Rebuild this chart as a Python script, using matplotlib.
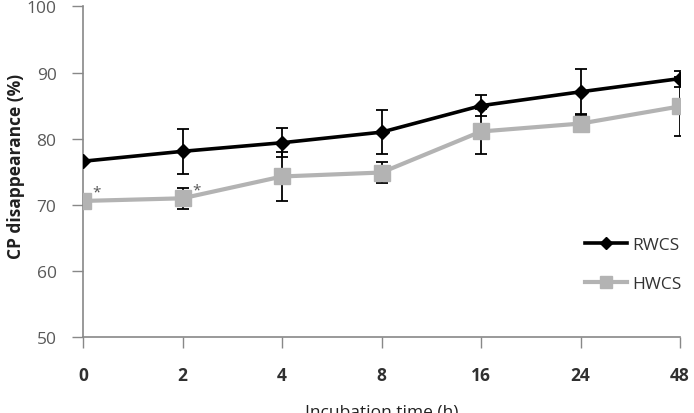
import matplotlib
matplotlib.use("Agg")
import matplotlib.pyplot as plt
from matplotlib.lines import Line2D
import numpy as np

plt.rcParams['font.family'] = ['Open Sans', 'DejaVu Sans']

times = ["0", "2", "4", "8", "16", "24", "48"]
rwcs = [76.6, 78.1, 79.4, 81.0, 85.0, 87.1, 89.1]
rwcs_err = [0.0, 3.4, 2.2, 3.3, 1.6, 3.4, 1.2]
hwcs = [70.6, 71.0, 74.3, 74.9, 81.1, 82.3, 84.9]
hwcs_err = [0.0, 1.6, 3.7, 1.6, 3.4, 1.3, 4.5]
star_idx = [0, 1]

FS = 12.5
fig = plt.figure(figsize=(6.94, 4.14), dpi=100)
ax = fig.add_axes([0.1196, 0.183, 0.8604, 0.799])
x = np.arange(len(times))

ax.errorbar(x, hwcs, yerr=hwcs_err, fmt='none', ecolor='black', elinewidth=1.3, capsize=4, capthick=1.3, zorder=2)
ax.errorbar(x, rwcs, yerr=rwcs_err, fmt='none', ecolor='black', elinewidth=1.3, capsize=4, capthick=1.3, zorder=2)
ax.plot(x, hwcs, color='#b3b3b3', lw=3, marker='s', ms=11, mfc='#b3b3b3', mec='#b3b3b3', zorder=3)
ax.plot(x, rwcs, color='black', lw=2.6, marker='D', ms=7, zorder=4)

for i in star_idx:
    ax.text(x[i] + 0.14, hwcs[i] + 1.3, '*', fontsize=11, color='#555555', ha='center', va='center')

ax.set_xlim(0, len(times) - 1)
ax.set_ylim(50, 100)
ax.set_yticks([50, 60, 70, 80, 90, 100])
ax.set_xticks(x)
ax.set_xticklabels(times, fontweight='bold', fontsize=FS, color='#303030')
ax.tick_params(axis='y', labelsize=FS, labelcolor='#595959', color='#888888', length=8, width=1, pad=11)
ax.tick_params(axis='x', color='#888888', length=8, width=1, direction='out', pad=13)
for s in ['top', 'right']:
    ax.spines[s].set_visible(False)
for s in ['left', 'bottom']:
    ax.spines[s].set_color('#888888')
    ax.spines[s].set_linewidth(1.2)

ax.set_ylabel('CP disappearance (%)', fontsize=FS, fontweight='bold', color='#202020')
ax.yaxis.set_label_coords(-0.097, 0.52)
ax.set_xlabel('Incubation time (h)', fontsize=FS, color='#202020', labelpad=14)

handles = [
    Line2D([], [], color='black', lw=2.6, marker='D', ms=6),
    Line2D([], [], color='#b3b3b3', lw=3, marker='s', ms=9),
]
fig.legend(handles, ['RWCS', 'HWCS'], loc='center left', bbox_to_anchor=(0.843, 0.359),
           frameon=False, fontsize=FS, handlelength=2.4, handletextpad=0.3, labelspacing=1.3,
           borderpad=0, borderaxespad=0, labelcolor='#333333')

fig.savefig('out.png', dpi=100)
